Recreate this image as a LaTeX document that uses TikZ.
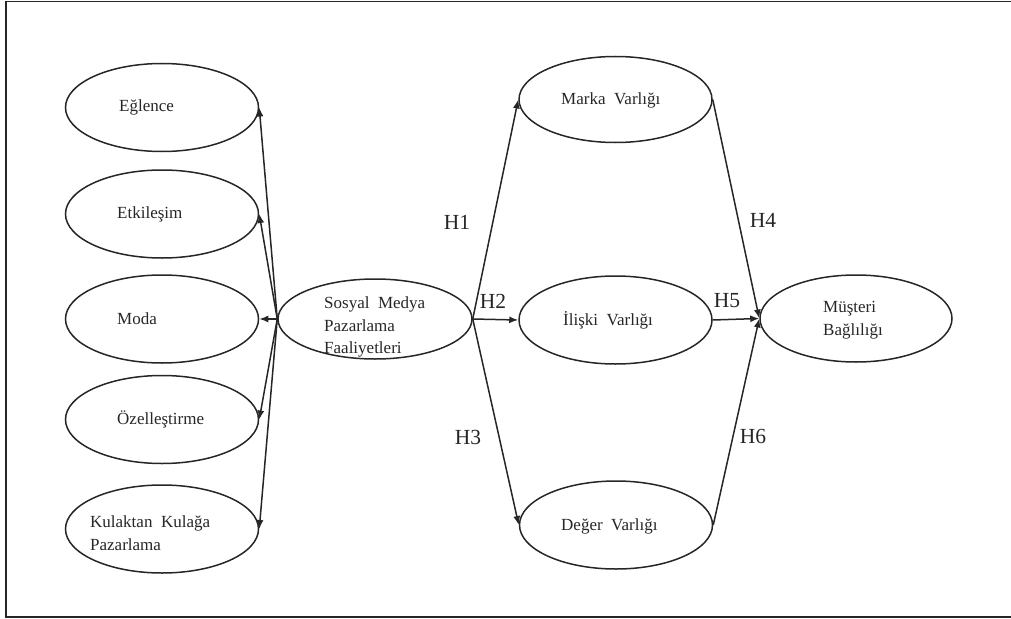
\documentclass[tikz,border=0pt]{standalone}
\usepackage{fontspec}
\setmainfont{Liberation Serif}
\usetikzlibrary{shapes.geometric,arrows.meta}
\definecolor{ink}{HTML}{262626}
\tikzset{
  elli/.style={ellipse, draw=ink, line width=1.5pt, inner sep=0pt, minimum width=193pt, minimum height=88pt},
  lbl/.style={anchor=west, align=left, inner sep=0pt, font=\fontsize{17}{22.5}\selectfont, text=ink},
  hlbl/.style={inner sep=0pt, font=\fontsize{21.5}{24}\selectfont, text=ink},
  conn/.style={draw=ink, line width=1.5pt, -{Latex[length=9pt,width=7pt]}}
}
\begin{document}
\begin{tikzpicture}[x=1pt,y=-1pt]
\useasboundingbox (0,0) rectangle (1011,618);
\draw[ink, line width=1.6pt] (1011,1.5) -- (6,1.5) -- (6,616.8) -- (1011,616.8);
% left column
\node[elli] (e1) at (162,107.5) {};
\node[elli] (e2) at (162,214) {};
\node[elli] (e3) at (162,319) {};
\node[elli] (e4) at (162,419.5) {};
\node[elli] (e5) at (162,529) {};
\node[lbl] (t1) at (119,107) {Eğlence};
\node[lbl] (t2) at (117,214) {Etkileşim};
\node[lbl] (t3) at (117,319) {Moda};
\node[lbl] (t4) at (117,419) {Özelleştirme};
\node[lbl] (t5) at (90,533) {Kulaktan\ \ Kulağa\\Pazarlama};
% center
\node[elli, minimum width=194pt, minimum height=80pt] (s) at (375,319) {};
\node[lbl] (ts) at (324,327) {Sosyal\ \ Medya\\Pazarlama\\Faaliyetleri};
% middle column
\node[elli, minimum height=86pt] (m) at (615.5,99.5) {};
\node[elli] (i) at (615.5,320) {};
\node[elli] (d) at (616,525) {};
\node[lbl] (tm) at (561,100) {Marka\ \ Varlığı};
\node[lbl] (ti) at (563,320) {İlişki\ \ Varlığı};
\node[lbl] (td) at (561,526) {Değer\ \ Varlığı};
% right
\node[elli, minimum width=192pt, minimum height=87pt] (b) at (856,318.5) {};
\node[lbl] (tb) at (823,320) {Müşteri\\Bağlılığı};
% connectors
\foreach \n in {e1,e2,e3,e4,e5} \draw[conn] (s.west) -- (\n.east);
\draw[conn] (s.east) -- (m.west);
\draw[conn] (s.east) -- (i.west);
\draw[conn] (s.east) -- (d.west);
\draw[conn] (m.east) -- (b.west);
\draw[conn] (i.east) -- (b.west);
\draw[conn] (d.east) -- (b.west);
% hypothesis labels
\node[hlbl] (h1) at (457,222) {H1};
\node[hlbl] (h2) at (493,301) {H2};
\node[hlbl] (h3) at (468,437) {H3};
\node[hlbl] (h4) at (763,220) {H4};
\node[hlbl] (h5) at (727,301) {H5};
\node[hlbl] (h6) at (753,436) {H6};
\end{tikzpicture}
\end{document}
